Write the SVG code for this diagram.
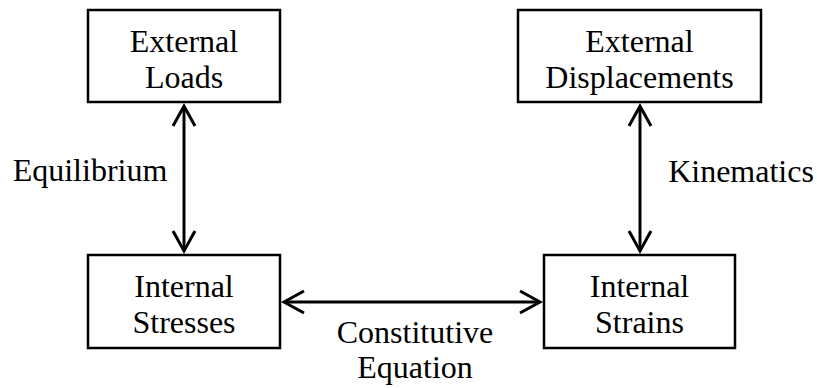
<svg xmlns="http://www.w3.org/2000/svg" width="817" height="388" viewBox="0 0 817 388">
<defs>
<style>
.box{fill:#fff;stroke:#000;stroke-width:2.5}
.t{font-family:"Liberation Serif","Times New Roman",serif;font-size:32px;fill:#000;text-anchor:middle}
.c{fill:none;stroke:#000;stroke-width:3}
</style>
<marker id="ah" viewBox="-24 -14 28 28" refX="0" refY="0" markerWidth="28" markerHeight="28" markerUnits="userSpaceOnUse" orient="auto-start-reverse">
<path d="M-20,-11 L0,0 L-20,11" fill="none" stroke="#000" stroke-width="3"/>
</marker>
</defs>
<rect width="817" height="388" fill="#fff"/>
<g id="connectors">
<line class="c" x1="184" y1="106" x2="184" y2="251" marker-start="url(#ah)" marker-end="url(#ah)"/>
<line class="c" x1="640" y1="106" x2="640" y2="251" marker-start="url(#ah)" marker-end="url(#ah)"/>
<line class="c" x1="284" y1="302" x2="540" y2="302" marker-start="url(#ah)" marker-end="url(#ah)"/>
<text class="t" x="90" y="181">Equilibrium</text>
<text class="t" x="741" y="182">Kinematics</text>
<text class="t" x="415" y="343">Constitutive</text>
<text class="t" x="415" y="378">Equation</text>
</g>
<g id="external-loads">
<rect class="box" x="88" y="10" width="192" height="92"/>
<text class="t" x="184" y="52">External</text>
<text class="t" x="184" y="88">Loads</text>
</g>
<g id="external-displacements">
<rect class="box" x="518" y="10" width="243" height="92"/>
<text class="t" x="639.5" y="52">External</text>
<text class="t" x="639.5" y="88">Displacements</text>
</g>
<g id="internal-stresses">
<rect class="box" x="88" y="255" width="192" height="93"/>
<text class="t" x="184" y="297">Internal</text>
<text class="t" x="184" y="333">Stresses</text>
</g>
<g id="internal-strains">
<rect class="box" x="544" y="255" width="191" height="93"/>
<text class="t" x="639.5" y="297">Internal</text>
<text class="t" x="639.5" y="333">Strains</text>
</g>
</svg>
